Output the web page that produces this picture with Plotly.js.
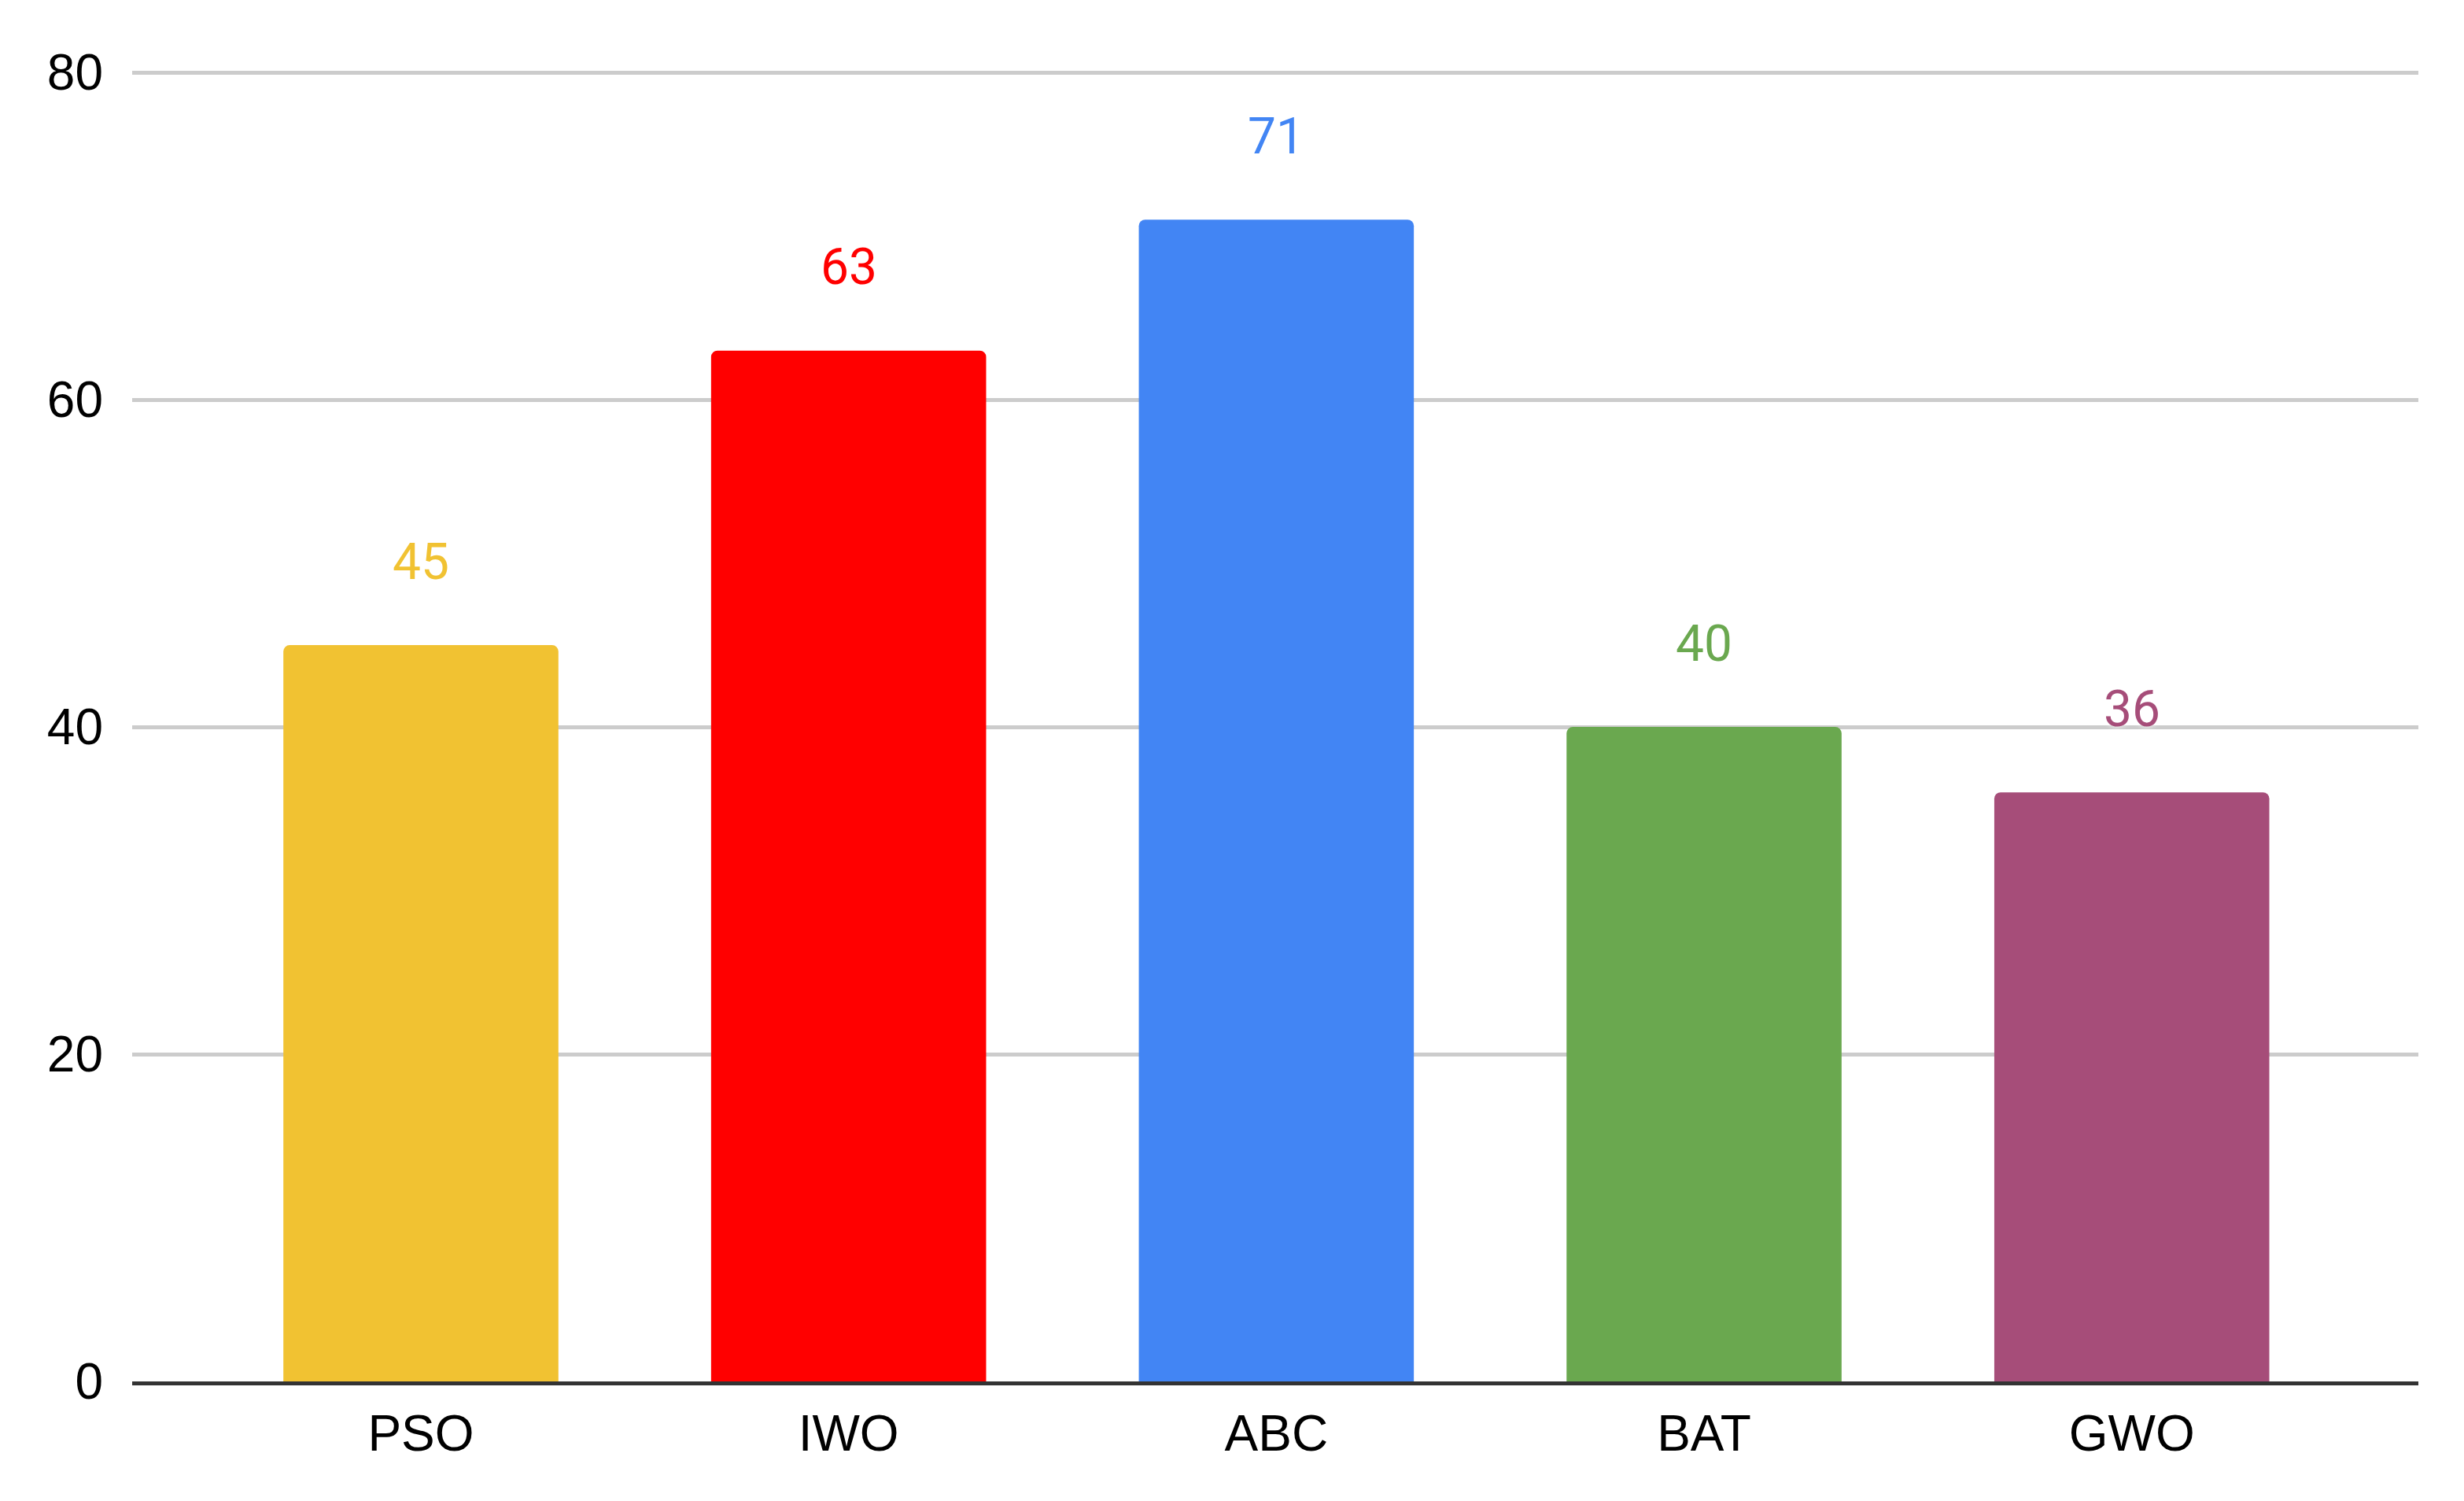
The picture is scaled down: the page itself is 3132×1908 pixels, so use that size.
<!DOCTYPE html>
<html>
<head>
<meta charset="utf-8">
<script src="https://cdn.plot.ly/plotly-3.0.1.min.js"></script>
<style>html,body{margin:0;padding:0;background:#fff;}#chart{width:3132px;height:1908px;}</style>
</head>
<body>
<div id="chart"></div>
<script>
const categories = ["PSO", "IWO", "ABC", "BAT", "GWO"];
const values = [45, 63, 71, 40, 36];
const barColors = ["#F1C232", "#FF0000", "#4285F4", "#6AA84F", "#A64D79"];
const yTicks = [0, 20, 40, 60, 80];

const trace = {
  type: "bar",
  x: categories,
  y: values,
  marker: { color: barColors, line: { width: 0 } },
  width: 0.643,
  hoverinfo: "skip"
};

const annotations = categories.map((c, i) => ({
  x: c,
  y: values[i],
  xref: "x",
  yref: "y",
  text: String(values[i]),
  showarrow: false,
  yanchor: "middle",
  yshift: 106,
  font: { family: "Roboto, sans-serif", size: 64, color: barColors[i], shadow: "0px 0px 6px #ffffff" }
}));

const layout = {
  width: 3132,
  height: 1908,
  paper_bgcolor: "#ffffff",
  plot_bgcolor: "#ffffff",
  margin: { l: 168, r: 58, t: 90, b: 152, pad: 0 },
  showlegend: false,
  barcornerradius: 8,
  font: { family: "Liberation Sans, Arial, sans-serif", size: 64, color: "#000000" },
  xaxis: {
    type: "category",
    range: [-0.675, 4.67],
    showgrid: false,
    showline: true,
    linecolor: "#333333",
    linewidth: 5,
    ticks: "",
    ticklabelstandoff: 6,
    tickfont: { family: "Liberation Sans, Arial, sans-serif", size: 64, color: "#000000" },
    zeroline: false,
    fixedrange: true
  },
  yaxis: {
    range: [0, 80.1],
    tickvals: yTicks,
    ticktext: yTicks.map(String),
    showgrid: true,
    gridcolor: "#cccccc",
    gridwidth: 5,
    zeroline: false,
    showline: false,
    ticks: "",
    ticklabelstandoff: 36,
    tickfont: { family: "Liberation Sans, Arial, sans-serif", size: 64, color: "#000000" },
    fixedrange: true
  },
  annotations: annotations
};

Plotly.newPlot("chart", [trace], layout, { displayModeBar: false, staticPlot: true });
</script>
</body>
</html>
